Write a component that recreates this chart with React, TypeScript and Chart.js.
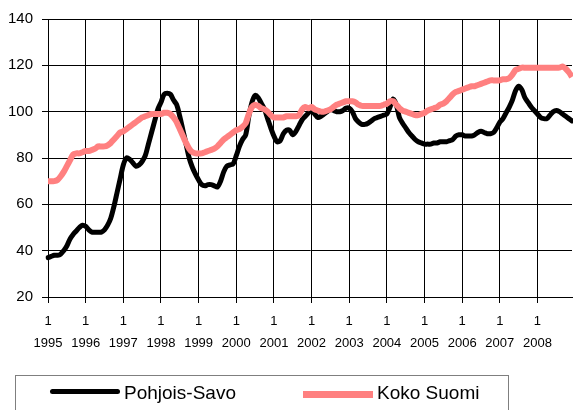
import React, { useEffect, useRef } from 'react';
import { Chart, registerables } from 'chart.js';

Chart.register(...registerables);

const years = [1995, 1996, 1997, 1998, 1999, 2000, 2001, 2002, 2003, 2004, 2005, 2006, 2007, 2008];
const monthNumbers = [1, 2, 3, 4, 5, 6, 7, 8, 9, 10, 11, 12];
const categories: string[] = [];
years.forEach((y) => monthNumbers.forEach((m) => categories.push(`${y}-${m}`)));

const yTicks = [20, 40, 60, 80, 100, 120, 140];

const pohjoisSavo = [
  37, 37.5, 38, 38, 38.5, 40, 42, 45, 47, 48.5, 50, 51,
  50.5, 49, 48, 48, 48, 48, 49, 51, 54, 59, 65, 71,
  77, 80, 79.5, 78, 76.5, 77, 78.5, 81, 86, 91, 96, 101,
  104, 107.5, 108, 107.5, 105, 103, 98, 92, 86, 80, 76, 73,
  70.5, 68.5, 68, 68.5, 68.5, 68, 67.5, 70, 74, 76.5, 77, 77.5,
  81, 85, 88, 90, 98, 104, 107, 106, 103.5, 101, 97, 93,
  89.5, 87, 87.5, 90.5, 92, 92, 90, 91.5, 94, 96.5, 98, 99.5,
  101, 99, 97.5, 98, 99, 100, 101, 100.5, 100, 100, 100.5, 101.5,
  101.5, 100, 97, 95.5, 94.5, 94.5, 95, 96, 97, 97.5, 98, 98.5,
  99, 102, 105.5, 103, 97.5, 95, 93, 91, 89.5, 88, 87, 86.5,
  86, 86, 86, 86.5, 86.5, 87, 87, 87, 87.5, 88, 89.5, 90,
  90, 89.5, 89.5, 89.5, 90, 91, 91.5, 91, 90.5, 90.5, 91, 93,
  95.5, 97, 99.5, 102, 105, 109, 111, 109.5, 106, 104, 102, 100.5,
  99, 97.5, 97, 97, 98.5, 100, 100.5, 100, 99, 98, 97, 96,
];

const kokoSuomi = [
  70, 70, 70, 70.5, 72, 74, 76.5, 79, 81.5, 82, 82, 82.5,
  83, 83, 83.5, 84, 85, 85, 85, 85.5, 86.5, 88, 89.5, 91,
  91.5, 92.5, 93.5, 94.5, 95.5, 96.5, 97.5, 98, 98.5, 99, 99, 99,
  99, 99.5, 99.5, 99, 97.5, 95.5, 92.5, 89.5, 86.5, 84, 82.5, 82,
  82, 82, 82.5, 83, 83.5, 84, 85, 86.5, 88, 89, 90, 91,
  92, 92.5, 93.5, 95, 99, 102, 103, 102.5, 101.5, 101, 100, 98.5,
  97.5, 97.5, 97.5, 97.5, 98, 98, 98, 98, 98.5, 101, 102, 101.5,
  102, 101, 100.5, 100, 100, 100.5, 101, 102, 103, 103.5, 104, 104.5,
  104.5, 104.5, 104, 103, 102.5, 102.5, 102.5, 102.5, 102.5, 102.5, 102.5, 103,
  103.5, 104.5, 104.5, 103, 101.5, 100.5, 100, 99.5, 99, 98.5, 98.5, 99,
  99.5, 100.5, 101, 101.5, 102, 103, 103.5, 104.5, 106, 107.5, 108.5, 109,
  109.5, 110, 110.5, 111, 111, 111.5, 112, 112.5, 113, 113.5, 113.5, 113.5,
  113.5, 114, 114, 114.5, 116, 118, 118.5, 119, 119, 119, 119, 119,
  119, 119, 119, 119, 119, 119, 119, 119, 119.5, 118.5, 117, 115,
];

const seriesNames = ['Pohjois-Savo', 'Koko Suomi'];
const seriesColors = ['#000000', '#ff8080'];

const FONT = '"Liberation Sans", Arial, sans-serif';

export default function App() {
  const canvasRef = useRef<HTMLCanvasElement | null>(null);

  useEffect(() => {
    const canvas = canvasRef.current;
    if (!canvas) return;
    const chart = new Chart(canvas, {
      type: 'line',
      data: {
        labels: categories,
        datasets: [
          {
            label: seriesNames[0],
            data: pohjoisSavo,
            borderColor: seriesColors[0],
            backgroundColor: seriesColors[0],
            borderWidth: 5,
            pointRadius: 0,
            tension: 0.3,
            borderJoinStyle: 'round',
            borderCapStyle: 'round',
            order: 1,
          },
          {
            label: seriesNames[1],
            data: kokoSuomi,
            borderColor: seriesColors[1],
            backgroundColor: seriesColors[1],
            borderWidth: 6,
            pointRadius: 0,
            tension: 0.2,
            order: 0,
          },
        ],
      },
      options: {
        responsive: false,
        animation: false,
        layout: { padding: { top: 19, right: 1, left: 0, bottom: 0 } },
        plugins: { legend: { display: false }, tooltip: { enabled: false } },
        scales: {
          x: {
            type: 'category',
            offset: false,
            border: { color: '#000', width: 1 },
            grid: { color: '#000', lineWidth: 1, tickLength: 6, drawOnChartArea: true },
            ticks: {
              autoSkip: false,
              maxRotation: 0,
              color: '#000',
              padding: 7,
              font: { family: FONT, size: 13, lineHeight: 1.7 },
              callback: (_v: any, index: number) =>
                index % 12 === 0 ? ['1', String(years[index / 12])] : null,
            },
            afterFit: (scale: any) => {
              scale.height = 113;
            },
          },
          y: {
            min: yTicks[0],
            max: yTicks[yTicks.length - 1],
            border: { color: '#000', width: 1 },
            grid: { color: '#000', lineWidth: 1, tickLength: 6 },
            ticks: {
              stepSize: 20,
              color: '#000',
              padding: 9,
              font: { family: FONT, size: 15 },
            },
            afterFit: (scale: any) => {
              scale.width = 48;
            },
          },
        },
      },
    });
    return () => chart.destroy();
  }, []);

  const textStyle: React.CSSProperties = {
    position: 'absolute',
    top: 382,
    fontFamily: FONT,
    fontSize: 19,
    lineHeight: '22px',
    color: '#000',
    whiteSpace: 'nowrap',
  };

  return (
    <div
      style={{
        position: 'absolute',
        left: 0,
        top: 0,
        width: 573,
        height: 410,
        background: '#fff',
        overflow: 'hidden',
      }}
    >
      <canvas ref={canvasRef} width={573} height={410} style={{ display: 'block' }} />
      <div
        style={{
          position: 'absolute',
          left: 15,
          top: 375,
          width: 492,
          height: 50,
          border: '1px solid #7f7f7f',
        }}
      />
      <div
        style={{
          position: 'absolute',
          left: 50,
          top: 389,
          width: 70,
          height: 5,
          borderRadius: 3,
          background: seriesColors[0],
        }}
      />
      <div style={{ ...textStyle, left: 124 }}>{seriesNames[0]}</div>
      <div
        style={{
          position: 'absolute',
          left: 303,
          top: 391,
          width: 70,
          height: 7,
          background: seriesColors[1],
        }}
      />
      <div style={{ ...textStyle, left: 377 }}>{seriesNames[1]}</div>
    </div>
  );
}
